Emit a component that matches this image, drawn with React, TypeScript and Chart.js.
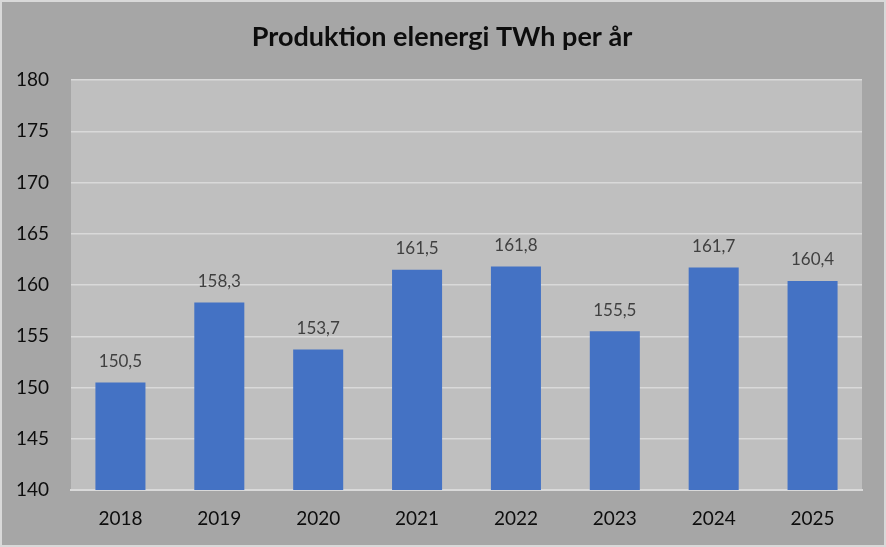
import React, { useEffect, useRef } from "react";
import { Chart, registerables } from "chart.js";

Chart.register(...registerables);

const categories = ["2018", "2019", "2020", "2021", "2022", "2023", "2024", "2025"];
const values = [150.5, 158.3, 153.7, 161.5, 161.8, 155.5, 161.7, 160.4];
const titleText = "Produktion elenergi TWh per år";
const yMin = 140;
const yMax = 180;
const yStep = 5;

const FONT = "Lato, 'Open Sans', sans-serif";

export default function App() {
  const ref = useRef<HTMLCanvasElement | null>(null);

  useEffect(() => {
    if (!ref.current) return;
    const bgPlugin = {
      id: "bgPlugin",
      beforeDraw(chart: any) {
        const { ctx, width, height, chartArea } = chart;
        ctx.save();
        ctx.fillStyle = "#a6a6a6";
        ctx.fillRect(0, 0, width, height);
        ctx.fillStyle = "#bfbfbf";
        ctx.fillRect(chartArea.left, chartArea.top, chartArea.right - chartArea.left, chartArea.bottom - chartArea.top);
        ctx.strokeStyle = "#d9d9d9";
        ctx.lineWidth = 3;
        ctx.strokeRect(0.5, 0.5, width - 1, height - 1);
        ctx.restore();
      },
      afterDraw(chart: any) {
        const { ctx, width } = chart;
        ctx.save();
        ctx.fillStyle = "#0d0d0d";
        ctx.font = `bold 27px ${FONT}`;
        ctx.textAlign = "center";
        ctx.textBaseline = "middle";
        ctx.fillText(titleText, width / 2 - 1, 37);
        // data labels
        const meta = chart.getDatasetMeta(0);
        ctx.fillStyle = "#404040";
        ctx.font = `17px ${FONT}`;
        meta.data.forEach((bar: any, i: number) => {
          const v = values[i];
          ctx.fillText(v.toFixed(1).replace(".", ","), bar.x, bar.y - 21);
        });
        ctx.restore();
      },
    };

    const chart = new Chart(ref.current, {
      type: "bar",
      data: {
        labels: categories,
        datasets: [
          {
            data: values,
            backgroundColor: "#4472c4",
            borderWidth: 0,
            categoryPercentage: 1,
            barPercentage: 0.506,
          },
        ],
      },
      options: {
        animation: false,
        responsive: false,
        devicePixelRatio: 1,
        layout: { padding: { top: 80, right: 24, left: 0, bottom: 0 } },
        plugins: {
          legend: { display: false },
          title: { display: false },
          tooltip: { enabled: false },
        },
        scales: {
          x: {
            grid: { display: false, drawTicks: false },
            border: { display: true, color: "#d9d9d9", width: 2 },
            ticks: { color: "#0d0d0d", font: { family: FONT, size: 19 }, padding: 17 },
            afterFit(scale: any) {
              scale.height = 57;
            },
          },
          y: {
            min: yMin,
            max: yMax,
            grid: { color: "#d9d9d9", lineWidth: 1.5, drawTicks: false },
            border: { display: false },
            ticks: {
              stepSize: yStep,
              color: "#0d0d0d",
              font: { family: FONT, size: 19 },
              padding: 22,
            },
            afterFit(scale: any) {
              scale.width = 71;
            },
          },
        },
      },
      plugins: [bgPlugin],
    });
    return () => chart.destroy();
  }, []);

  return (
    <div style={{ position: "fixed", top: 0, left: 0, width: 886, height: 547 }}>
      <canvas ref={ref} width={886} height={547} />
    </div>
  );
}
